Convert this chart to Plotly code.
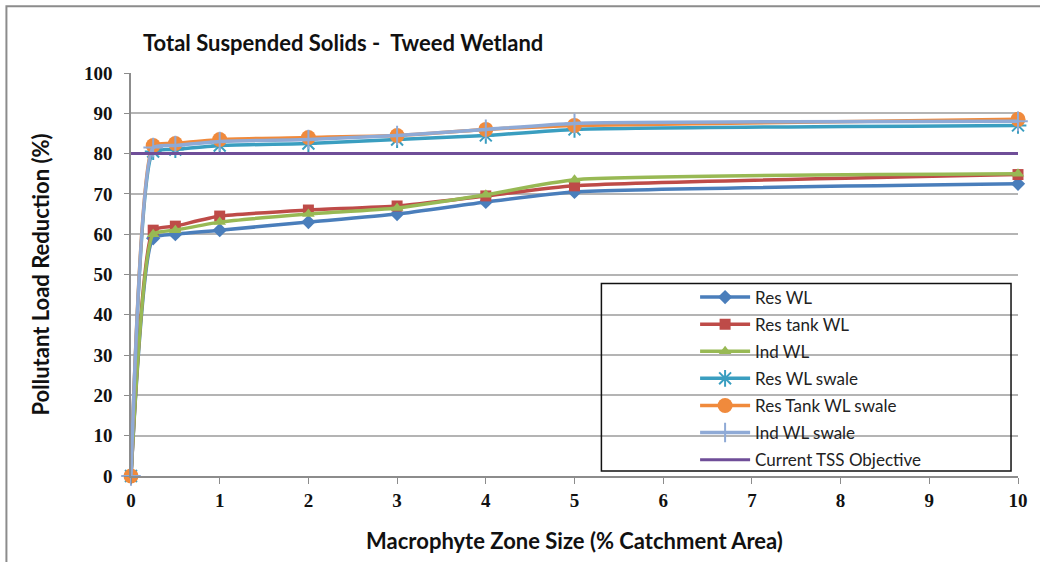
import plotly.graph_objects as go

x_vals = [0, 0.25, 0.5, 1, 2, 3, 4, 5, 10]

res_wl = [0, 59, 60, 61, 63, 65, 68, 70.5, 72.5]
res_tank_wl = [0, 61, 62, 64.5, 66, 67, 69.5, 72, 74.8]
ind_wl = [0, 60, 61, 63, 65, 66.5, 69.8, 73.5, 75]
res_wl_swale = [0, 80.5, 81, 82, 82.5, 83.5, 84.5, 86, 87]
res_tank_wl_swale = [0, 82, 82.5, 83.5, 84, 84.5, 86, 87, 88.5]
ind_wl_swale = [0, 81.5, 82, 83, 83.5, 84.5, 86, 87.5, 88]

objective_x = [0, 10]
objective_y = [80, 80]

series_names = ["Res WL", "Res tank WL", "Ind WL", "Res WL swale",
                "Res Tank WL swale", "Ind WL swale", "Current TSS Objective"]

x_ticks = list(range(0, 11))
y_ticks = list(range(0, 101, 10))

fig = go.Figure()

styles = [
    (res_wl, "#4A7EBB", dict(symbol="diamond", size=11, color="#4A7EBB")),
    (res_tank_wl, "#BE4B48", dict(symbol="square", size=11, color="#BE4B48")),
    (ind_wl, "#98B954", dict(symbol="triangle-up", size=11, color="#98B954")),
    (res_wl_swale, "#3A9EC0", dict(symbol="asterisk-open", size=14, color="#3A9EC0",
                                    line=dict(width=2, color="#3A9EC0"))),
    (res_tank_wl_swale, "#F08A3C", dict(symbol="circle", size=15, color="#F08A3C")),
    (ind_wl_swale, "#8FAAD6", dict(symbol="cross-thin-open", size=14, color="#8FAAD6",
                                    line=dict(width=2, color="#8FAAD6"))),
]

for i, (ys, col, mk) in enumerate(styles):
    fig.add_trace(go.Scatter(
        x=x_vals, y=ys, name=series_names[i], mode="lines+markers",
        line=dict(color=col, width=3.5, shape="spline", smoothing=0.5),
        marker=mk, cliponaxis=False, legendgroup=f"g{i}",
    ))

fig.add_trace(go.Scatter(
    x=objective_x, y=objective_y, name=series_names[6], mode="lines",
    line=dict(color="#6F4E98", width=3), legendgroup="g6",
))

def px_x(p):
    return (p - 131) / 890.0

def px_y(p):
    return (477 - p) / 404.0

fig.update_layout(
    width=1040, height=562,
    margin=dict(l=131, r=19, t=73, b=85),
    paper_bgcolor="white", plot_bgcolor="white",
    font=dict(family="Lato", color="#1a1a1a"),
    title=dict(text="Total Suspended Solids -\u00a0\u00a0Tweed Wetland",
               x=143 / 1040, xanchor="left", xref="container",
               y=1 - 43 / 562, yanchor="middle", yref="container",
               font=dict(family="Lato", size=22, color="#111111", weight="bold")),
    showlegend=True,
    legend=dict(x=px_x(697), y=px_y(280), xanchor="left", yanchor="top",
                bgcolor="rgba(0,0,0,0)", borderwidth=0,
                font=dict(family="Lato", size=17, color="#222222"),
                tracegroupgap=2, itemwidth=50, traceorder="grouped"),
    shapes=[
        dict(type="rect", xref="paper", yref="paper",
             x0=px_x(603), x1=px_x(1014), y0=px_y(472), y1=px_y(284),
             line=dict(color="#111111", width=1.5), fillcolor="rgba(0,0,0,0)",
             layer="above"),
        dict(type="rect", xref="paper", yref="paper",
             x0=px_x(6), x1=px_x(1050), y0=px_y(575), y1=px_y(6),
             line=dict(color="#8c8c8c", width=2), fillcolor="rgba(0,0,0,0)"),
    ],
)

fig.update_xaxes(
    range=[0, 10], tickvals=x_ticks, ticktext=[str(t) for t in x_ticks],
    showgrid=False, showline=True, linecolor="#8c8c8c", linewidth=1.5,
    ticks="outside", ticklen=6, tickcolor="#8c8c8c",
    tickfont=dict(family="Liberation Serif", size=19, color="#111111", weight="bold"),
    title=dict(text="Macrophyte Zone Size (% Catchment Area)", standoff=24,
               font=dict(family="Lato", size=22, color="#111111", weight="bold")),
    zeroline=False,
)
fig.update_yaxes(
    range=[0, 100], tickvals=y_ticks, ticktext=[str(t) for t in y_ticks],
    showgrid=True, gridcolor="#b4b4b4", gridwidth=1.5,
    showline=True, linecolor="#8c8c8c", linewidth=1.5,
    ticks="outside", ticklen=5, tickcolor="#8c8c8c", ticklabelstandoff=8,
    tickfont=dict(family="Liberation Serif", size=19, color="#111111", weight="bold"),
    title=dict(text="Pollutant Load Reduction (%)", standoff=28,
               font=dict(family="Lato", size=22, color="#111111", weight="bold")),
    zeroline=False,
)

fig.write_html("out.html", config={"displayModeBar": False},
               post_script="document.body.style.margin='0';")
